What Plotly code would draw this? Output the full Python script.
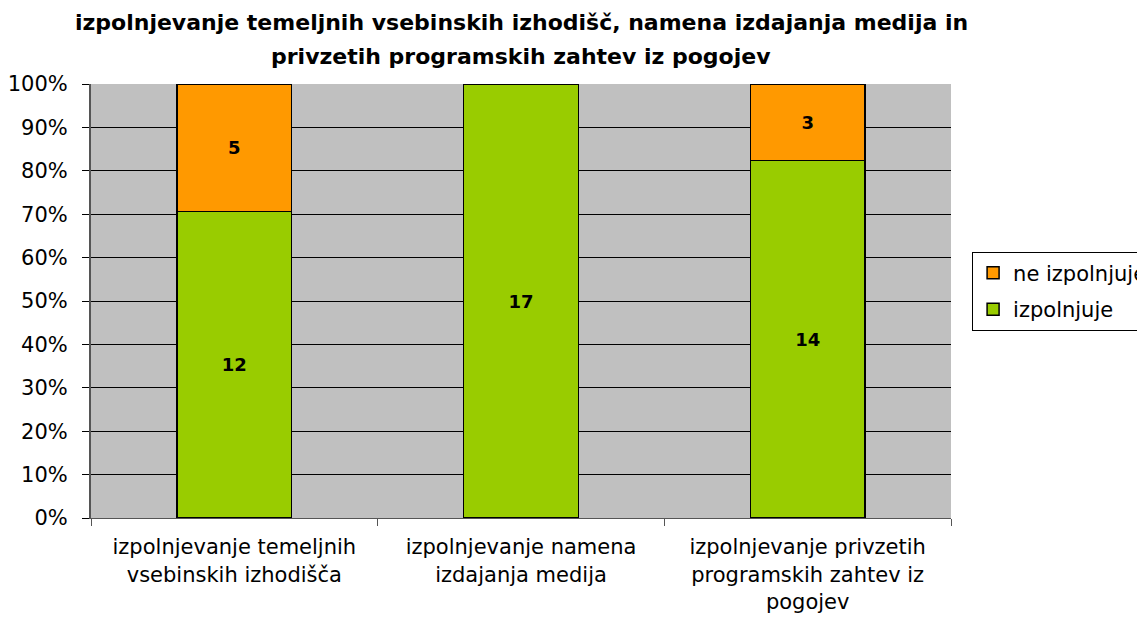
import plotly.graph_objects as go

categories = [
    "izpolnjevanje temeljnih<br>vsebinskih izhodišča",
    "izpolnjevanje namena<br>izdajanja medija",
    "izpolnjevanje privzetih<br>programskih zahtev iz<br>pogojev",
]
izpolnjuje = [12, 17, 14]
ne_izpolnjuje = [5, 0, 3]
ne_labels = ["5", "", "3"]
title_lines = [
    "izpolnjevanje temeljnih vsebinskih izhodišč, namena izdajanja medija in",
    "privzetih programskih zahtev iz pogojev",
]

FONT = "DejaVu Sans, Liberation Sans, Arial, sans-serif"

fig = go.Figure()
fig.add_trace(go.Bar(
    x=categories, y=izpolnjuje, name="izpolnjuje",
    marker=dict(color="#99CC00", line=dict(color="black", width=1.5)),
    text=[str(v) for v in izpolnjuje], textposition="inside",
    insidetextanchor="middle", textangle=0,
    textfont=dict(family=FONT, size=18, color="black", weight="bold"),
    width=0.4, legendgroup="a", legendrank=2,
))
fig.add_trace(go.Bar(
    x=categories, y=ne_izpolnjuje, name="ne izpolnjuje",
    marker=dict(color="#FF9900", line=dict(color="black", width=1.5)),
    text=ne_labels, textposition="inside",
    insidetextanchor="middle", textangle=0,
    textfont=dict(family=FONT, size=18, color="black", weight="bold"),
    width=0.4, legendgroup="b", legendrank=1,
))

fig.update_layout(
    barmode="stack", barnorm="percent",
    width=1145, height=617,
    margin=dict(l=83, r=202, t=76, b=107),
    paper_bgcolor="white", plot_bgcolor="#C0C0C0",
    font=dict(family=FONT, size=20, color="black"),
    showlegend=True,
    legend=dict(
        xref="container", yref="container",
        x=0.842, xanchor="left", y=0.541, yanchor="middle",
        bordercolor="black", borderwidth=1, bgcolor="white",
        font=dict(family=FONT, size=21, color="black"),
        traceorder="grouped", tracegroupgap=6, itemwidth=30,
    ),
)
fig.update_yaxes(
    range=[0, 100], dtick=10, ticksuffix="%",
    showgrid=True, gridcolor="black", gridwidth=1,
    showline=True, linecolor="#555555", linewidth=2,
    ticks="outside", ticklen=7, tickcolor="black",
    tickfont=dict(family=FONT, size=21),
    ticklabelstandoff=10, automargin=False,
    zeroline=False,
)
fig.update_xaxes(
    showline=True, linecolor="#555555", linewidth=1,
    ticks="outside", tickson="boundaries", ticklen=7, tickcolor="#555555",
    tickfont=dict(family=FONT, size=21),
    ticklabelstandoff=10, automargin=False,
    showgrid=False,
)

fig.add_annotation(text="<b>" + title_lines[0] + "</b>", xref="paper", yref="paper",
                   x=0.5, y=1, yshift=62, yanchor="middle", showarrow=False,
                   font=dict(family=FONT, size=22, color="black"))
fig.add_annotation(text="<b>" + title_lines[1] + "</b>", xref="paper", yref="paper",
                   x=0.5, y=1, yshift=28, yanchor="middle", showarrow=False,
                   font=dict(family=FONT, size=22, color="black"))

fig.write_html("out.html")
